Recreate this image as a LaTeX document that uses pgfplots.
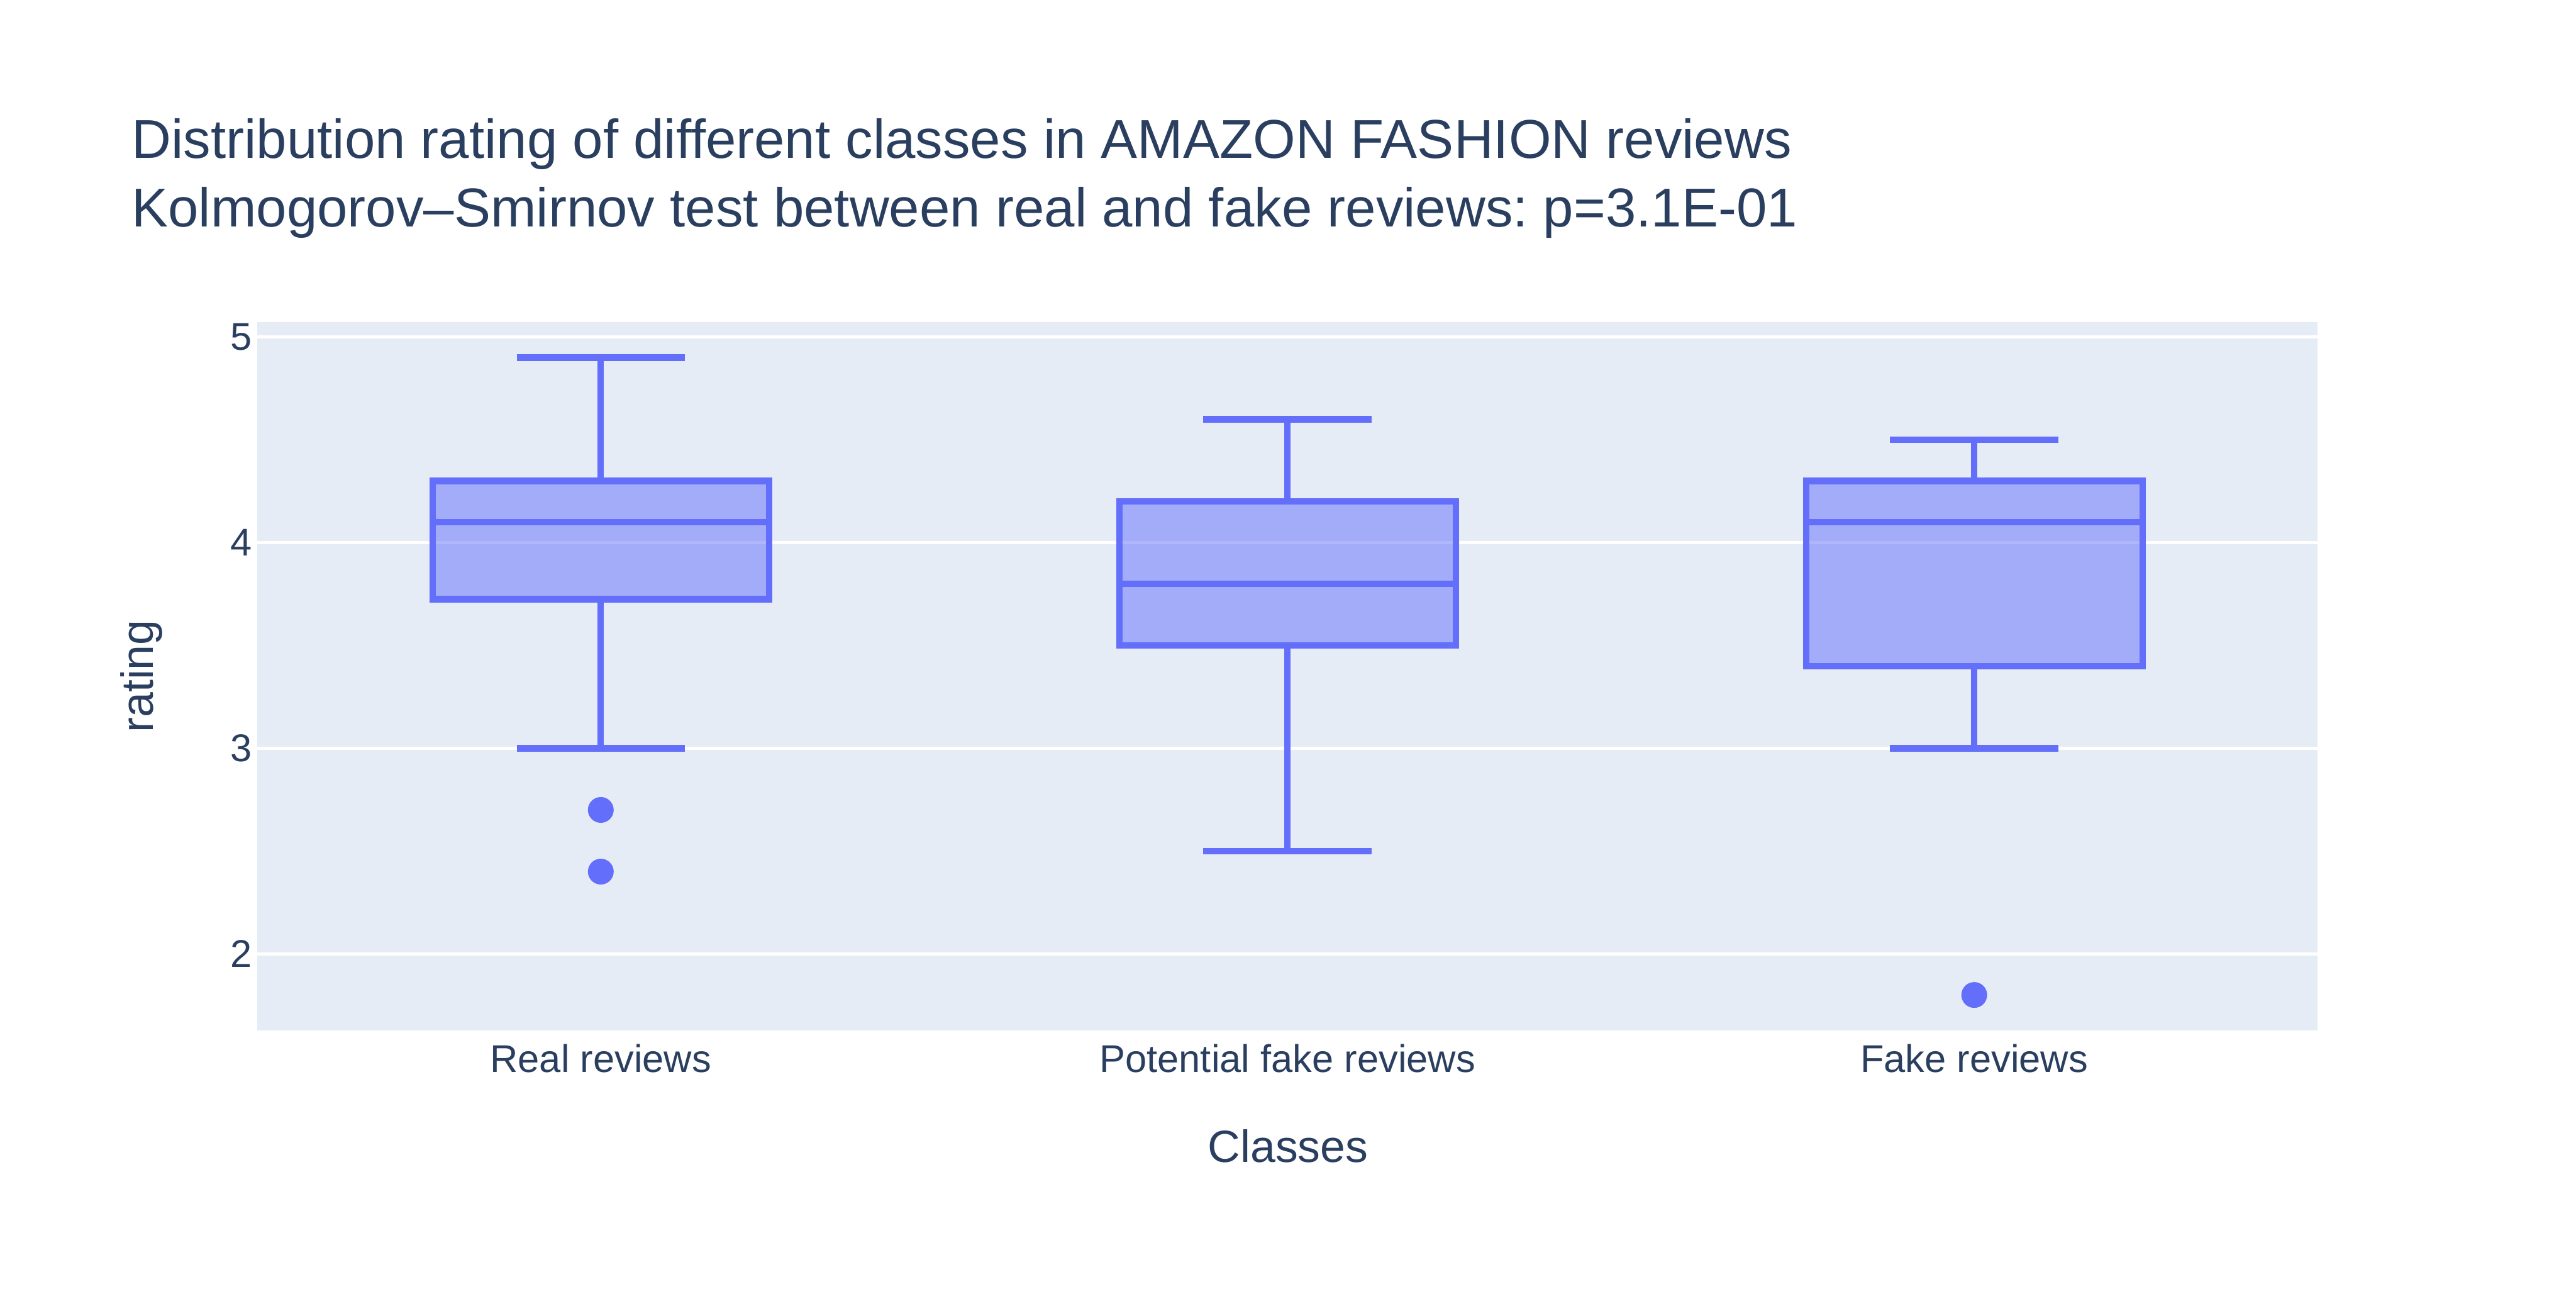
\documentclass[border=0pt]{standalone}
\usepackage{fontspec}
\setmainfont{Liberation Sans}
\usepackage{pgfplots}
\pgfplotsset{compat=1.18}
\usepgfplotslibrary{statistics}
\definecolor{pblue}{RGB}{99,110,250}
\definecolor{bgcol}{RGB}{229,236,246}
\definecolor{txtcol}{RGB}{42,63,95}
\frenchspacing
\begin{document}
\begin{tikzpicture}
\useasboundingbox (0,0) rectangle (784pt,392pt);
\begin{axis}[
  at={(78.35pt,78.45pt)}, anchor=south west,
  scale only axis, width=627pt, height=215.6pt,
  xmin=-0.5, xmax=2.5, ymin=1.627, ymax=5.0735,
  axis background/.style={fill=bgcol},
  axis line style={draw=none},
  ytick={2,3,4,5}, xtick={0,1,2},
  xticklabels={Real reviews, Potential fake reviews, Fake reviews},
  major tick length=0pt,
  ymajorgrids, grid style={white, line width=0.98pt},
  tick label style={font=\fontsize{11.76}{14}\selectfont, text=txtcol},
  yticklabel style={anchor=east, inner sep=0pt, xshift=-1.5pt},
  xticklabel style={anchor=base, inner sep=0pt, yshift=-12.75pt},
  /pgf/number format/assume math mode=true,
  boxplot/draw direction=y,
  boxplot/every box/.style={fill=pblue, fill opacity=0.5},
]
\addplot[
  boxplot prepared={lower whisker=3.0, lower quartile=3.725, median=4.1,
    upper quartile=4.3, upper whisker=4.9, draw position=0,
    box extend=0.49, whisker extend=0.245},
  draw=pblue, line width=1.96pt,
  mark=*, mark size=2.94pt, mark options={draw=none, fill=pblue, fill opacity=1, solid},
] table[row sep=\\, y index=0] {data\\ 2.7\\ 2.4\\};
\addplot[
  boxplot prepared={lower whisker=2.5, lower quartile=3.5, median=3.8,
    upper quartile=4.2, upper whisker=4.6, draw position=1,
    box extend=0.49, whisker extend=0.245},
  draw=pblue, line width=1.96pt,
  mark=*, mark size=2.94pt, mark options={draw=none, fill=pblue, fill opacity=1, solid},
] coordinates {};
\addplot[
  boxplot prepared={lower whisker=3.0, lower quartile=3.4, median=4.1,
    upper quartile=4.3, upper whisker=4.5, draw position=2,
    box extend=0.49, whisker extend=0.245},
  draw=pblue, line width=1.96pt,
  mark=*, mark size=2.94pt, mark options={draw=none, fill=pblue, fill opacity=1, solid},
] table[row sep=\\, y index=0] {data\\ 1.8\\};
\end{axis}
\node[anchor=base west, inner sep=0pt, text=txtcol, font=\fontsize{16.66}{20}\selectfont] at (39.9pt,343.85pt) {Distribution rating of different classes in AMAZON FASHION reviews};
\node[anchor=base west, inner sep=0pt, text=txtcol, font=\fontsize{16.66}{20}\selectfont] at (39.9pt,323.05pt) {Kolmogorov–Smirnov test between real and fake reviews: p=3.1E-01};
\node[anchor=base, inner sep=0pt, text=txtcol, font=\fontsize{13.72}{16}\selectfont] at (392pt,38.35pt) {Classes};
\node[anchor=base, rotate=90, inner sep=0pt, text=txtcol, font=\fontsize{13.72}{16}\selectfont] at (46.55pt,186.25pt) {rating};
\end{tikzpicture}
\end{document}
